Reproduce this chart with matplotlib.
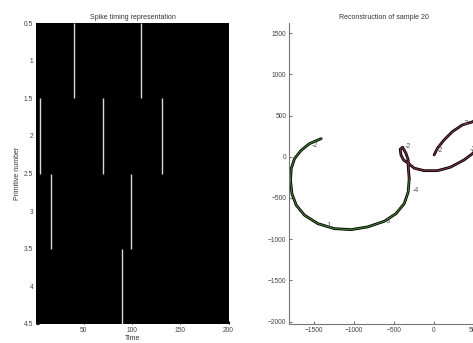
import numpy as np
import matplotlib
matplotlib.use('Agg')
import matplotlib.pyplot as plt

plt.rcParams['font.family'] = ['Liberation Sans', 'DejaVu Sans']

# spike times per primitive (row 1..4)
spike_times = {
    1: [40, 109],
    2: [5, 70, 131],
    3: [16, 99],
    4: [90],
}
ytick_vals = [0.5, 1, 1.5, 2, 2.5, 3, 3.5, 4, 4.5]
ytick_labels = ['0.5', '1', '1.5', '2', '2.5', '3', '3.5', '4', '4.5']
xtick_vals = [50, 100, 150, 200]

# reconstructed trajectory, first stroke (green) and second stroke (dark red)
green_x = [-1408, -1554, -1657, -1741, -1782, -1791, -1774, -1719, -1616, -1450,
           -1242, -1034, -827, -617, -473, -370, -320, -308]
green_y = [221, 160, 80, -22, -143, -284, -447, -588, -709, -811,
           -872, -884, -851, -782, -690, -568, -426, -265]
red_x = [-308, -320, -320, -349, -391, -420, -411, -379, -320, -245, -121,
         45, 207, 378, 490, 600, 680, 700, 650, 560,
         490, 356, 232, 128, 45, 4]
red_y = [-265, -120, -38, 44, 117, 92, 23, -38, -78, -138, -168,
         -168, -126, -38, 44, 180, 350, 480, 530, 490,
         427, 387, 306, 205, 104, 23]

# marker labels along the stroke
label_x = [-1525, -1351, -619, -270, -370, 41, 365, 452]
label_y = [132, -839, -788, -413, 120, 72, 400, 84]
label_txt = ['-2', '-1', '-3', '-4', '-2', '-2', '-3', '-2']

W, H = 473, 343
fig = plt.figure(figsize=(W / 100, H / 100), dpi=100)
fig.patch.set_facecolor('white')

# ---- left: spike timing ----
ax1 = fig.add_axes([36 / W, 1 - 324 / H, 193 / W, 301 / H])
ax1.set_facecolor('black')
for row, times in spike_times.items():
    ax1.vlines(times, row - 0.5, row + 0.5, colors='#d8d8d8', linewidth=1.0)
ax1.set_xlim(0.5, 200.5)
ax1.set_ylim(4.5, 0.5)
ax1.set_yticks(ytick_vals)
ax1.set_yticklabels(ytick_labels)
ax1.set_xticks(xtick_vals)
ax1.tick_params(direction='in', length=2, color='black', labelsize=4.8,
                labelcolor='#444444', pad=2)
for s in ax1.spines.values():
    s.set_visible(False)
ax1.set_title('Spike timing representation', fontsize=5, color='#333333', pad=3)
ax1.set_xlabel('Time', fontsize=5, color='#333333', labelpad=1)
ax1.set_ylabel('Primitive number', fontsize=5, color='#333333', labelpad=2)

# ---- right: reconstruction ----
ax2 = fig.add_axes([289 / W, 1 - 324 / H, 189 / W, 301 / H])
ax2.plot(green_x, green_y, color='black', linewidth=2.0,
         solid_capstyle='round', solid_joinstyle='round')
ax2.plot(red_x, red_y, color='black', linewidth=2.0,
         solid_capstyle='round', solid_joinstyle='round')
ax2.plot(green_x, green_y, color='#3f7d2c', linewidth=0.8, solid_joinstyle='round')
ax2.plot(red_x, red_y, color='#7a3040', linewidth=0.8, solid_joinstyle='round')
for tx, ty, t in zip(label_x, label_y, label_txt):
    ax2.text(tx, ty, t, fontsize=5, color='#555555', va='center', ha='left')
ax2.set_xlim(-1810, 552)
ax2.set_ylim(-2030, 1625)
ax2.set_xticks([-1500, -1000, -500, 0, 500])
ax2.set_yticks([-2000, -1500, -1000, -500, 0, 500, 1000, 1500])
ax2.tick_params(direction='in', length=2, color='#777777', labelsize=4.8,
                labelcolor='#444444', pad=2)
ax2.spines['top'].set_visible(False)
ax2.spines['right'].set_visible(False)
for side in ['left', 'bottom']:
    ax2.spines[side].set_color('#777777')
    ax2.spines[side].set_linewidth(0.8)
ax2.set_title('Reconstruction of sample 20', fontsize=5, color='#333333', pad=3)

fig.savefig('out.png', dpi=100)
